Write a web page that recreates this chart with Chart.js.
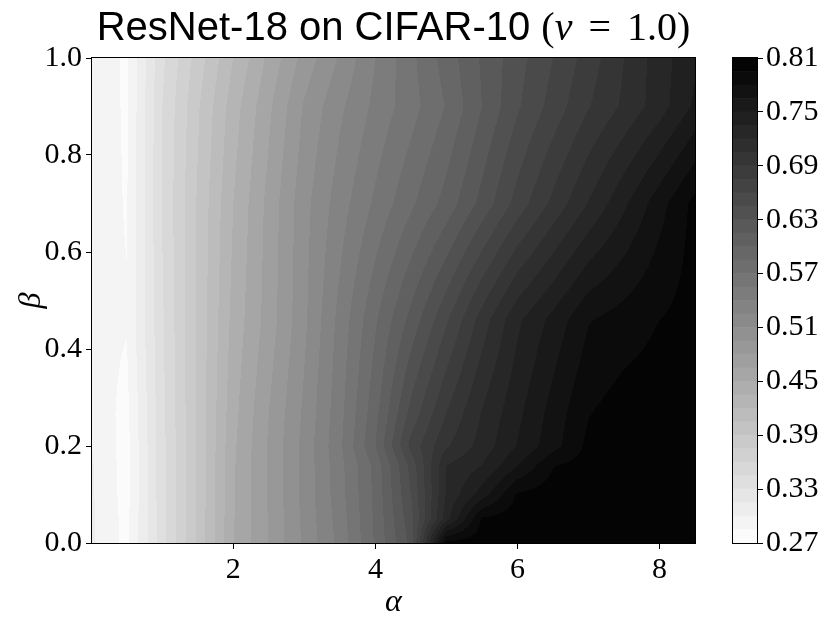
<!DOCTYPE html>
<html>
<head>
<meta charset="utf-8">
<script src="https://cdn.jsdelivr.net/npm/chart.js@4.4.1/dist/chart.umd.min.js"></script>
<style>
  html, body { margin: 0; padding: 0; background: #fff; }
  #wrap { position: relative; width: 830px; height: 628px; }
  #main { position: absolute; left: 0; top: 0; }
  #cbar { position: absolute; left: 700px; top: 0; }
</style>
</head>
<body>
<div id="wrap">
  <canvas id="main" width="830" height="628"></canvas>
  <canvas id="cbar" width="130" height="628"></canvas>
</div>
<script>
"use strict";

// grid of the sweep
const alphaValues = [0.01, 0.1, 0.5, 1.0, 1.5, 2.0, 2.5, 3.0, 3.5, 4.0, 4.5, 5.0, 5.5, 6.0, 6.5, 7.0, 7.5, 8.0, 8.5];
const betaValues = [0, 0.05, 0.1, 0.16, 0.2, 0.27, 0.46, 0.7, 0.9, 1.0];

// accuracy, one row per beta value (alpha left to right)
const accBeta000 = [0.305, 0.296, 0.281, 0.339, 0.393, 0.449, 0.481, 0.513, 0.545, 0.587, 0.635, 0.800, 0.803, 0.805, 0.806, 0.807, 0.808, 0.808, 0.809];
const accBeta005 = [0.304, 0.295, 0.281, 0.339, 0.393, 0.449, 0.481, 0.514, 0.547, 0.588, 0.640, 0.729, 0.797, 0.803, 0.805, 0.806, 0.807, 0.807, 0.808];
const accBeta010 = [0.303, 0.295, 0.280, 0.340, 0.393, 0.448, 0.482, 0.515, 0.549, 0.589, 0.645, 0.722, 0.757, 0.797, 0.803, 0.805, 0.806, 0.807, 0.807];
const accBeta016 = [0.302, 0.294, 0.280, 0.340, 0.393, 0.448, 0.482, 0.515, 0.550, 0.590, 0.650, 0.720, 0.735, 0.764, 0.794, 0.802, 0.804, 0.806, 0.807];
const accBeta020 = [0.300, 0.293, 0.280, 0.340, 0.393, 0.447, 0.482, 0.515, 0.552, 0.600, 0.665, 0.703, 0.726, 0.751, 0.774, 0.799, 0.803, 0.805, 0.806];
const accBeta027 = [0.298, 0.291, 0.281, 0.341, 0.393, 0.445, 0.480, 0.513, 0.550, 0.595, 0.650, 0.690, 0.721, 0.746, 0.771, 0.794, 0.802, 0.804, 0.805];
const accBeta046 = [0.290, 0.288, 0.286, 0.343, 0.393, 0.440, 0.472, 0.507, 0.545, 0.583, 0.620, 0.658, 0.697, 0.732, 0.755, 0.779, 0.787, 0.795, 0.801];
const accBeta070 = [0.295, 0.291, 0.284, 0.346, 0.392, 0.435, 0.470, 0.505, 0.533, 0.558, 0.582, 0.606, 0.635, 0.666, 0.694, 0.721, 0.747, 0.774, 0.800];
const accBeta090 = [0.298, 0.292, 0.283, 0.345, 0.388, 0.428, 0.462, 0.497, 0.522, 0.544, 0.564, 0.586, 0.615, 0.643, 0.666, 0.689, 0.708, 0.728, 0.753];
const accBeta100 = [0.300, 0.292, 0.283, 0.342, 0.382, 0.420, 0.454, 0.486, 0.512, 0.540, 0.566, 0.592, 0.617, 0.639, 0.660, 0.682, 0.705, 0.728, 0.747];
const accuracy = [accBeta000, accBeta005, accBeta010, accBeta016, accBeta020, accBeta027, accBeta046, accBeta070, accBeta090, accBeta100];

// contour levels and ticks
const levels = [0.27, 0.285, 0.30, 0.315, 0.33, 0.345, 0.36, 0.375, 0.39, 0.405, 0.42, 0.435, 0.45, 0.465, 0.48, 0.495,
    0.51, 0.525, 0.54, 0.555, 0.57, 0.585, 0.60, 0.615, 0.63, 0.645, 0.66, 0.675, 0.69, 0.705, 0.72, 0.735, 0.75,
    0.765, 0.78, 0.795, 0.81];
const xTicks = [2, 4, 6, 8];
const yTicks = [0, 0.2, 0.4, 0.6, 0.8, 1.0];
const cbarTicks = [0.27, 0.33, 0.39, 0.45, 0.51, 0.57, 0.63, 0.69, 0.75, 0.81];

const serif = '"Liberation Serif", "Times New Roman", serif';

// gray_r colour of band k (matplotlib takes the band midpoint)
const bandGray = (k) => {
    const lo = levels[0], hi = levels[levels.length - 1];
    const mid = (levels[k] + levels[k + 1]) / 2;
    return Math.round(255 * (1 - (mid - lo) / (hi - lo)));
};

const findCell = (arr, v) => {
    var i = 0;
    while (i < arr.length - 2 && v > arr[i + 1]) i++;
    return i;
};

const sample = (a, b) => {
    const i = findCell(alphaValues, a);
    const j = findCell(betaValues, b);
    const tx = Math.min(1, Math.max(0, (a - alphaValues[i]) / (alphaValues[i + 1] - alphaValues[i])));
    const ty = Math.min(1, Math.max(0, (b - betaValues[j]) / (betaValues[j + 1] - betaValues[j])));
    return accuracy[j][i] * (1 - tx) * (1 - ty) + accuracy[j][i + 1] * tx * (1 - ty)
        + accuracy[j + 1][i] * (1 - tx) * ty + accuracy[j + 1][i + 1] * tx * ty;
};

const bandOf = (v) => {
    for (let k = 0; k < levels.length - 1; k++) {
        if (v < levels[k + 1]) return k;
    }
    return levels.length - 2;
};

const contourFill = {
    id: 'contourFill',
    beforeDatasetsDraw(chart) {
        const { ctx, chartArea: area, scales } = chart;
        const w = Math.round(area.right - area.left);
        const h = Math.round(area.bottom - area.top);
        const img = ctx.createImageData(w, h);
        for (let j = 0; j < h; j++) {
            const b = scales.y.getValueForPixel(area.top + j + 0.5);
            for (let i = 0; i < w; i++) {
                const a = scales.x.getValueForPixel(area.left + i + 0.5);
                const g = bandGray(bandOf(sample(a, b)));
                const p = (j * w + i) * 4;
                img.data[p] = g; img.data[p + 1] = g; img.data[p + 2] = g; img.data[p + 3] = 255;
            }
        }
        ctx.putImageData(img, Math.round(area.left), Math.round(area.top));
    }
};

const frame = {
    id: 'frame',
    afterDraw(chart) {
        const { ctx, chartArea: area } = chart;
        ctx.save();
        ctx.strokeStyle = '#000';
        ctx.lineWidth = 1;
        ctx.strokeRect(area.left - 0.5, area.top - 0.5, area.right - area.left + 1, area.bottom - area.top + 1);
        ctx.restore();
    }
};

// title mixes a sans-serif label with a serif math part
const mixedTitle = {
    id: 'mixedTitle',
    afterDraw(chart) {
        const { ctx, chartArea: area } = chart;
        const size = 40;
        const parts = [
            { text: 'ResNet-18 on CIFAR-10 ', font: size + 'px "Liberation Sans", Arial, sans-serif', gap: 0 },
            { text: '(', font: size + 'px ' + serif, gap: 0 },
            { text: 'ν', font: 'italic ' + size + 'px ' + serif, gap: 0.4 * size },
            { text: '=', font: size + 'px ' + serif, gap: 0.4 * size },
            { text: '1.0', font: size + 'px ' + serif, gap: 0 },
            { text: ')', font: size + 'px ' + serif, gap: 0 }
        ];
        ctx.save();
        var total = 0;
        parts.forEach(p => { ctx.font = p.font; p.w = ctx.measureText(p.text).width; total += p.w + p.gap; });
        var xPos = (area.left + area.right) / 2 - total / 2;
        ctx.fillStyle = '#000';
        ctx.textBaseline = 'alphabetic';
        parts.forEach(p => { ctx.font = p.font; ctx.fillText(p.text, xPos, 40); xPos += p.w + p.gap; });
        ctx.restore();
    }
};

const tickFont = { family: serif, size: 30 };

new Chart(document.getElementById('main'), {
    type: 'scatter',
    data: { datasets: [] },
    options: {
        responsive: false,
        animation: false,
        devicePixelRatio: 1,
        layout: { padding: { left: 0, top: 58, right: 135, bottom: 0 } },
        plugins: { legend: { display: false }, tooltip: { enabled: false } },
        scales: {
            x: {
                type: 'linear',
                min: alphaValues[0],
                max: alphaValues[alphaValues.length - 1],
                afterFit: (s) => { s.height = 85; },
                afterBuildTicks: (s) => { s.ticks = xTicks.map(v => ({ value: v })); },
                grid: { drawOnChartArea: false, tickLength: 6, color: '#000' },
                border: { display: false },
                ticks: { color: '#000', font: tickFont, padding: 3, maxRotation: 0, callback: (v) => String(v) },
                title: { display: true, text: 'α', color: '#000', font: { family: serif, size: 32, style: 'italic' }, padding: { top: 0, bottom: 6 } }
            },
            y: {
                type: 'linear',
                min: 0,
                max: 1,
                afterFit: (s) => { s.width = 92; },
                afterBuildTicks: (s) => { s.ticks = yTicks.map(v => ({ value: v })); },
                grid: { drawOnChartArea: false, tickLength: 6, color: '#000' },
                border: { display: false },
                ticks: { color: '#000', font: tickFont, padding: 4, callback: (v) => v.toFixed(1) },
                title: { display: true, text: 'β', color: '#000', font: { family: serif, size: 32, style: 'italic' }, padding: { top: 12, bottom: 0 } }
            }
        }
    },
    plugins: [contourFill, frame, mixedTitle]
});

// colour bar: one floating bar per contour band
const cbarDatasets = levels.slice(0, -1).map((lo, k) => {
    const g = bandGray(k);
    return {
        data: [[lo, levels[k + 1]]],
        backgroundColor: `rgb(${g}, ${g}, ${g})`,
        borderWidth: 0,
        grouped: false,
        barPercentage: 1,
        categoryPercentage: 1
    };
});

new Chart(document.getElementById('cbar'), {
    type: 'bar',
    data: { labels: [''], datasets: cbarDatasets },
    options: {
        responsive: false,
        animation: false,
        devicePixelRatio: 1,
        layout: { padding: { left: 33, top: 58, right: 0, bottom: 85 } },
        plugins: { legend: { display: false }, tooltip: { enabled: false } },
        scales: {
            x: { display: false },
            y: {
                position: 'right',
                min: levels[0],
                max: levels[levels.length - 1],
                afterFit: (s) => { s.width = 73; },
                afterBuildTicks: (s) => { s.ticks = cbarTicks.map(v => ({ value: v })); },
                grid: { drawOnChartArea: false, tickLength: 6, color: '#000' },
                border: { display: false },
                ticks: { color: '#000', font: tickFont, padding: 3, callback: (v) => v.toFixed(2) }
            }
        }
    },
    plugins: [frame]
});
</script>
</body>
</html>
